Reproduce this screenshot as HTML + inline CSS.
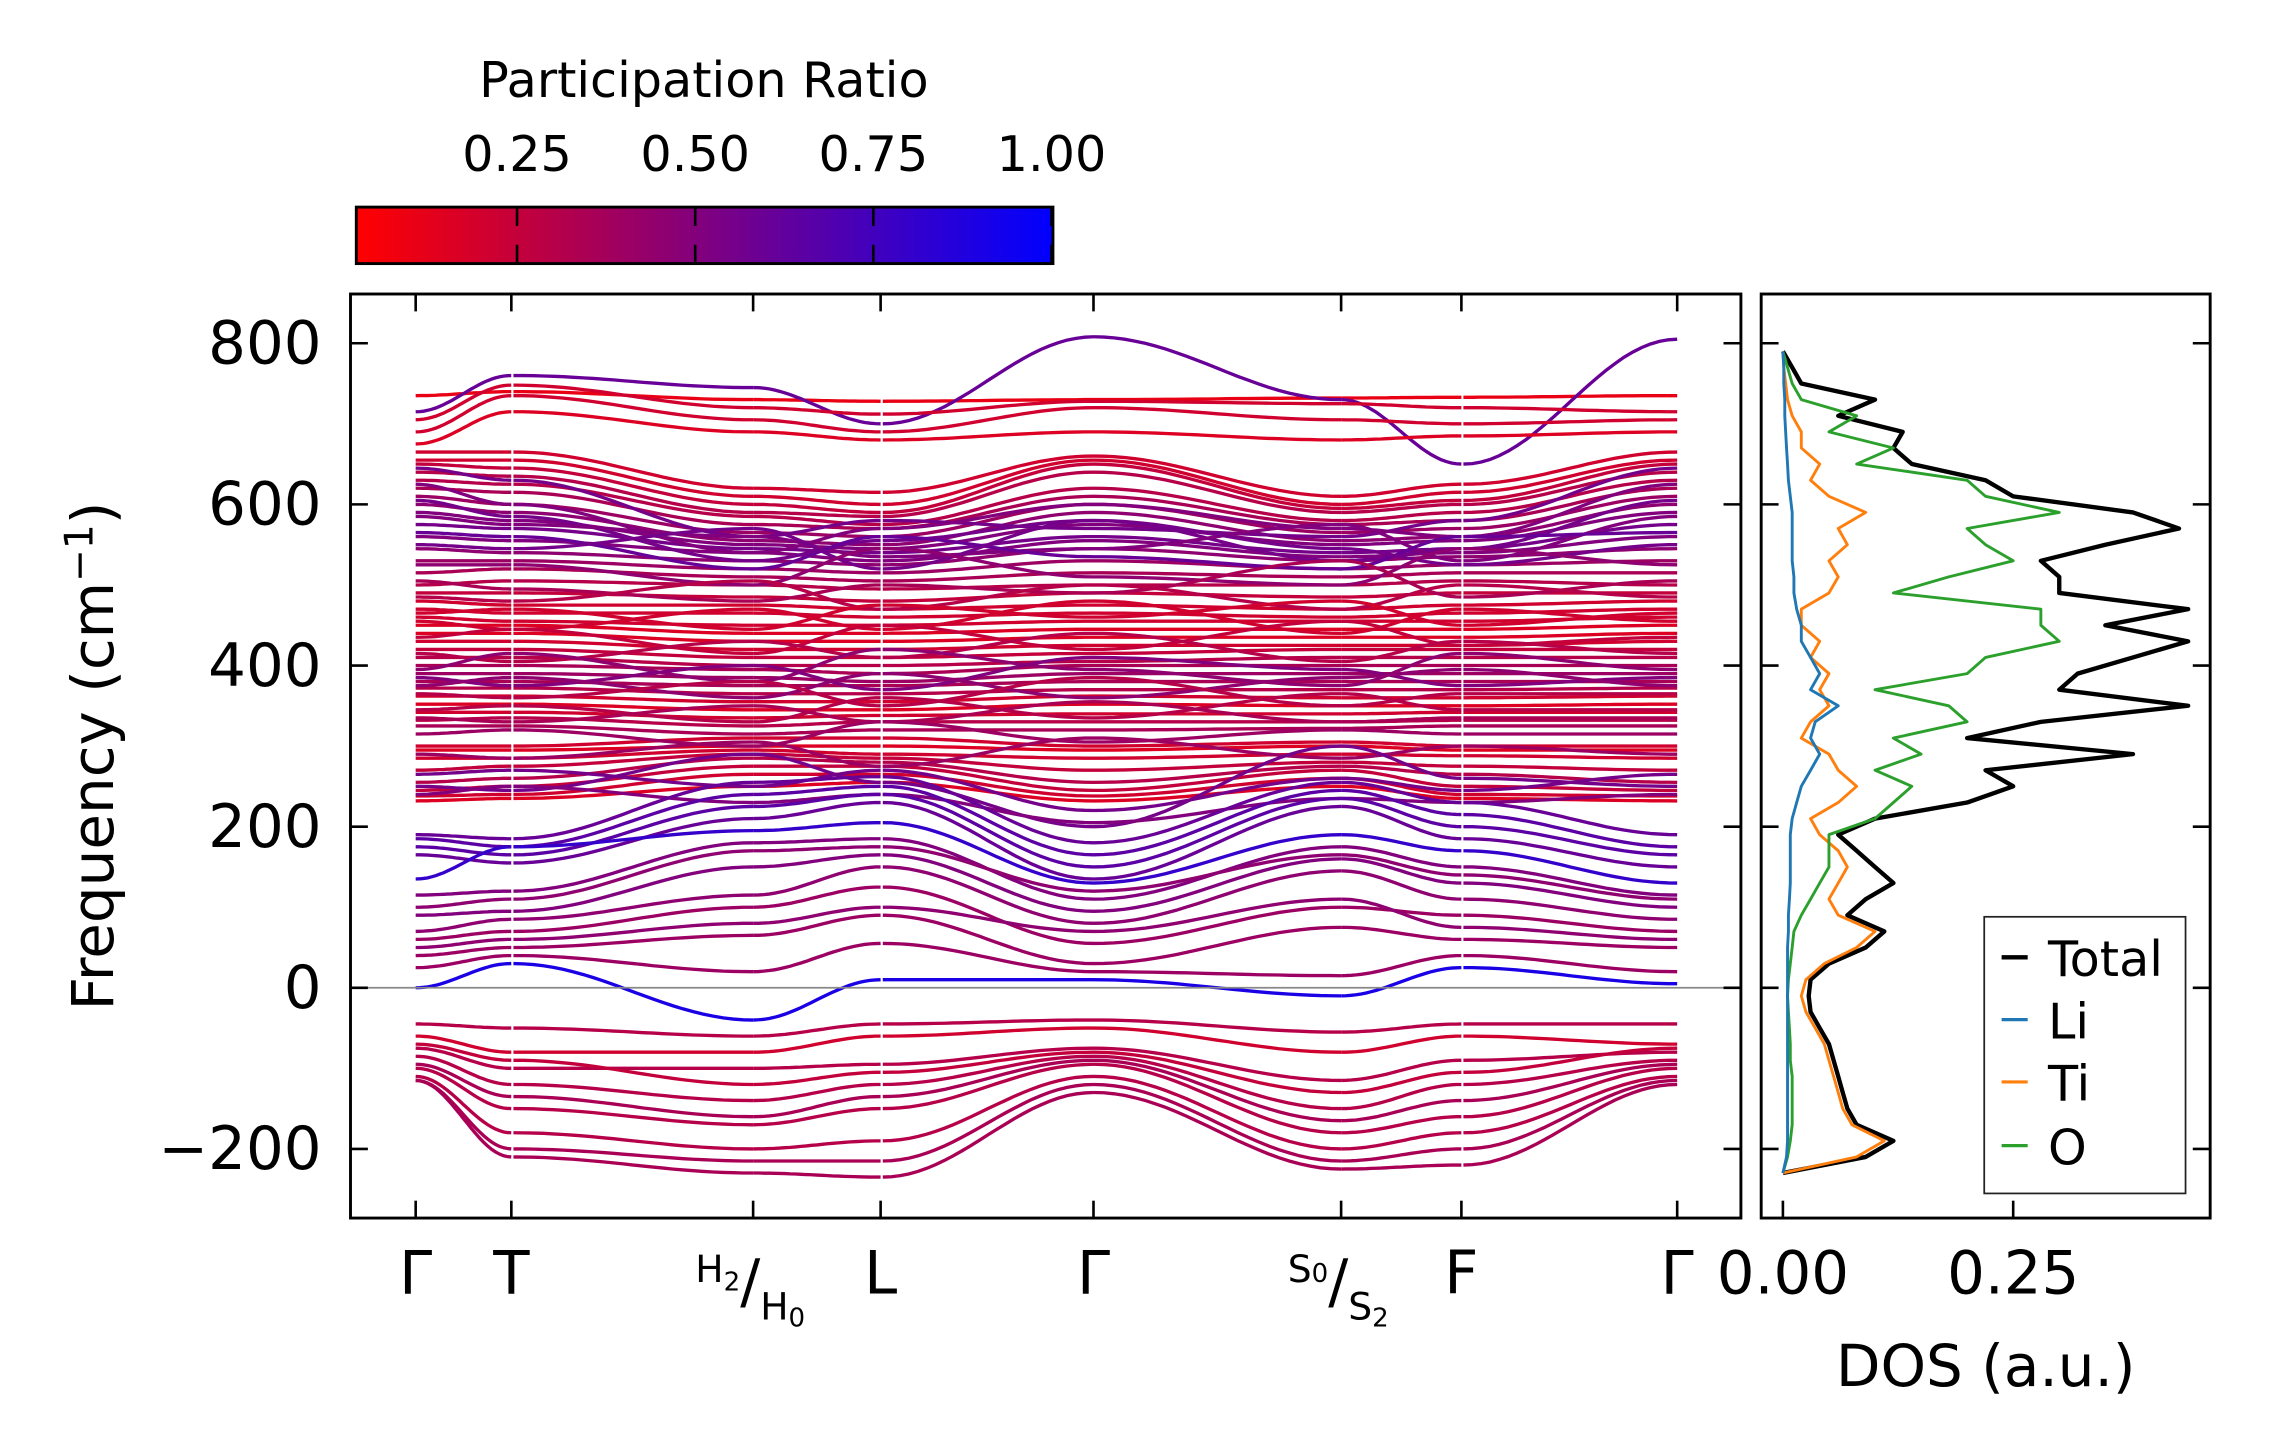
<!DOCTYPE html>
<html><head><meta charset="utf-8"><style>
html,body{margin:0;padding:0;background:#fff;}
svg{display:block;font-family:"DejaVu Sans","Liberation Sans",sans-serif;}
</style></head><body>
<svg id="fig" width="2271" height="1455" viewBox="0 0 1568 1004.6" xmlns="http://www.w3.org/2000/svg">
<defs>
<linearGradient id="cbg" x1="0" x2="1" y1="0" y2="0"><stop offset="0" stop-color="#ff0000"/><stop offset="1" stop-color="#0000ff"/></linearGradient>
<clipPath id="clipMain"><rect x="242" y="203" width="960" height="638"/></clipPath>
<clipPath id="clipDos"><rect x="1216" y="203" width="310" height="638"/></clipPath>
</defs>
<g>
<text x="486" y="67" font-size="34" text-anchor="middle">Participation Ratio</text>
<rect x="246" y="143" width="481" height="39" fill="url(#cbg)" stroke="#000" stroke-width="2"/>
<g id="cbticks"></g>
</g>
<g id="main"></g>
<g id="dos"></g>
<text x="1371" y="957" font-size="40" text-anchor="middle">DOS (a.u.)</text>
<text transform="translate(78,522) rotate(-90)" font-size="40" text-anchor="middle">Frequency (cm<tspan dy="-14" font-size="27">−1</tspan><tspan dy="14">)</tspan></text>
</svg>
<script>
const NS="http://www.w3.org/2000/svg";
const kLabels=["Γ","T","H","L","Γ","S","F","Γ"];
const kPos=[0,0.0688,0.2427,0.3344,0.4875,0.6656,0.7521,0.9073];
const yTicks=[-200,0,200,400,600,800];
const cbTicks=[0.25,0.50,0.75,1.00];
const dosTicks=[0.00,0.25];
const bandsTop=[
[735,740,730,728,730,732,733,735,.1],
[715,760,745,700,808,730,650,805,.6],
[705,748,720,712,728,725,720,715,.2],
[690,735,705,690,720,705,700,705,.2],
[675,715,690,680,690,680,685,690,.15],
[665,665,620,615,660,610,625,665,.2]];
const bandsMid=[
[655,655,610,600,655,600,615,655,.2],[650,645,600,590,650,595,605,650,.25],
[640,635,590,585,640,590,600,640,.3],[630,625,585,575,620,580,590,630,.3],
[620,615,575,570,610,575,580,620,.35],[610,600,565,560,600,565,570,610,.4],
[600,590,555,550,590,555,560,600,.45],[590,580,550,545,575,550,555,590,.5],
[575,570,545,540,560,540,545,575,.55],[560,555,540,530,555,535,540,560,.5],
[545,540,530,525,545,530,535,545,.45],[530,530,520,515,530,520,525,530,.4],
[515,520,510,505,515,510,515,515,.35],[500,505,500,495,500,500,505,500,.3],
[490,490,485,480,490,485,490,490,.25],[480,475,475,470,475,470,475,480,.2],
[470,465,465,460,465,460,465,470,.2],[460,455,450,450,455,455,455,460,.2],
[450,450,440,440,445,445,445,450,.15],[440,440,430,430,435,435,435,440,.15],
[430,430,420,420,425,425,425,430,.2],[420,420,410,410,415,420,420,420,.25],
[410,410,400,400,405,410,410,410,.3],[400,400,395,390,400,400,400,400,.35],
[390,390,385,380,390,390,390,390,.4],[380,380,375,375,380,380,380,380,.35],
[372,372,365,365,370,370,370,372,.3],[362,362,355,355,362,360,360,362,.2],
[352,352,345,345,352,350,350,352,.15],[342,342,335,338,340,340,342,342,.2],
[332,335,325,330,330,330,332,332,.3],[325,325,315,320,320,322,325,325,.35],
[300,300,310,310,300,305,300,300,.2],[295,295,300,300,295,300,295,295,.15],
[285,285,295,290,285,290,288,285,.2],[270,275,290,285,270,280,275,270,.25],
[255,260,285,280,255,275,265,255,.3],[245,250,275,275,245,270,250,245,.25],
[238,240,265,265,238,260,240,238,.2],[232,235,250,255,232,250,235,232,.15]];
const bandsMid2=[
[645,630,560,580,570,560,580,645,.55],[625,600,540,570,600,570,560,625,.5],
[605,585,530,555,580,530,545,605,.55],[585,575,560,535,545,575,530,585,.5],
[565,560,520,560,535,520,560,565,.6],[550,545,570,520,580,545,525,550,.55],
[525,525,500,545,510,500,545,525,.45],[505,495,480,500,490,530,485,505,.35],
[485,480,505,470,500,470,500,485,.3],[465,470,445,475,460,480,450,465,.2],
[455,445,470,445,480,440,470,455,.2],[435,445,415,450,420,455,425,435,.25],
[415,405,430,410,440,405,430,415,.3],[395,415,380,420,395,375,415,395,.45],
[385,375,400,370,410,395,375,385,.5],[375,385,360,390,360,385,395,375,.45],
[365,360,380,350,385,350,365,365,.3],[345,350,330,360,335,365,345,345,.3],
[335,330,350,330,355,330,335,335,.35],[315,320,300,330,305,320,315,315,.4],
[290,285,305,275,310,285,300,290,.4],[265,270,250,270,220,260,245,265,.55],
[250,245,290,255,200,300,260,250,.55],[240,250,230,240,205,235,230,240,.5]];
const bandsLow=[
[190,185,255,262,180,255,230,190,.6],[185,175,240,250,165,245,215,175,.65],
[175,165,225,240,150,235,200,165,.65],[165,155,210,230,135,225,185,150,.6],
[135,175,195,205,130,190,170,130,.8],[115,120,180,185,110,175,150,115,.5],
[90,95,150,165,95,160,130,100,.5],[70,85,115,150,80,145,110,85,.45],
[60,70,100,125,55,100,90,70,.4],[40,50,65,90,30,75,60,50,.4],
[25,40,20,55,20,15,40,20,.4],[0,30,-40,10,10,-10,25,5,.9],
[100,110,170,175,120,165,140,110,.45],[50,60,80,100,70,110,75,60,.45],
[-45,-50,-60,-45,-40,-55,-45,-45,.3],[-60,-80,-80,-60,-50,-80,-60,-70,.2],
[-75,-100,-100,-95,-75,-115,-90,-80,.3],[-85,-120,-140,-120,-85,-150,-120,-90,.3],
[-70,-90,-120,-105,-80,-130,-105,-75,.25],[-95,-135,-160,-135,-90,-165,-140,-95,.35],
[-100,-150,-170,-150,-95,-180,-160,-100,.3],[-110,-180,-200,-190,-110,-200,-180,-110,.3],
[-115,-200,-215,-215,-120,-215,-200,-115,.35],[-115,-210,-230,-235,-130,-225,-220,-120,.35]];
const dosFreq=[-230,-210,-190,-170,-150,-130,-110,-90,-70,-50,-30,-10,10,30,50,70,90,110,130,150,170,190,210,230,250,270,290,310,330,350,370,390,410,430,450,470,490,510,530,550,570,590,610,630,650,670,690,710,730,750,770,790];
const dosTotal=[0,.09,.12,.08,.07,.065,.06,.055,.05,.04,.03,.028,.03,.05,.09,.11,.07,.09,.12,.1,.08,.06,.1,.2,.25,.22,.38,.2,.28,.44,.3,.32,.38,.44,.35,.44,.3,.3,.28,.35,.43,.38,.25,.22,.14,.12,.13,.06,.1,.02,.01,0];
const dosTi=[0,.08,.11,.075,.065,.06,.055,.05,.045,.035,.025,.02,.025,.045,.08,.1,.06,.05,.06,.07,.06,.04,.03,.06,.08,.06,.05,.02,.03,.05,.04,.05,.03,.04,.02,.02,.05,.06,.05,.07,.06,.09,.05,.03,.04,.02,.02,.01,.005,.003,.001,0];
const dosO=[0,.005,.008,.01,.01,.01,.01,.008,.008,.007,.006,.005,.006,.008,.01,.012,.02,.03,.04,.05,.05,.05,.1,.12,.14,.1,.15,.12,.2,.18,.1,.2,.22,.3,.28,.28,.12,.18,.25,.22,.2,.3,.22,.2,.08,.12,.05,.08,.02,.01,.005,0];
const dosLi=[0,.004,.005,.005,.005,.005,.005,.005,.005,.005,.005,.005,.005,.005,.005,.006,.006,.007,.008,.008,.008,.008,.01,.015,.02,.03,.04,.03,.035,.06,.03,.04,.03,.02,.02,.015,.012,.012,.01,.01,.01,.01,.008,.006,.005,.004,.003,.002,.002,.001,.001,0];

const MX0=242,MX1=1202,MY0=203,MY1=841;
const pathX0=287,pathX1=1158;
const fy=v=>682-(v)*(445/800);
const kx=f=>pathX0+f*(pathX1-pathX0)/kPos[7];
const dx=v=>1231+v*(159/0.25);
const cbx=v=>357+(v-0.25)*(123/0.25);
function el(tag,attrs,parent){const e=document.createElementNS(NS,tag);for(const k in attrs)e.setAttribute(k,attrs[k]);parent.appendChild(e);return e;}
function color(p){const t=Math.max(0,Math.min(1,(p-0.02)/0.98));return `rgb(${Math.round(255*(1-t))},0,${Math.round(255*t)})`;}

const cbt=document.getElementById('cbticks');
cbTicks.forEach(v=>{
 const l=el('line',{x1:cbx(v),x2:cbx(v),y1:143,y2:156,stroke:'#000','stroke-width':1.8},cbt);
 
 const l2=el('line',{x1:cbx(v),x2:cbx(v),y1:169,y2:182,stroke:'#000','stroke-width':1.8},cbt);
 
 const t=el('text',{x:cbx(v),y:118,'font-size':34,'text-anchor':'middle'},cbt);t.textContent=v.toFixed(2);
 
});

const main=document.getElementById('main');
const bandG=el('g',{'clip-path':'url(#clipMain)'},main);

[...bandsTop,...bandsMid,...bandsMid2,...bandsLow].forEach(b=>{
 for(let s=0;s<7;s++){
  let d='';const N=24;
  const f0=kPos[s]+((s===1||s===3||s===6)?0.0015:0);
  const f1=kPos[s+1];
  for(let i=0;i<=N;i++){const t=i/N;const w=(1-Math.cos(Math.PI*t))/2;
   const v=b[s]+(b[s+1]-b[s])*w;const f=f0+(f1-f0)*t;
   d+=(i?'L':'M')+kx(f).toFixed(1)+' '+fy(v).toFixed(1);}
  const p=el('path',{d:d,fill:'none',stroke:color(b[8]),'stroke-width':2.3},bandG);
  
 }
});
const zl=el('line',{x1:MX0,x2:MX1,y1:fy(0),y2:fy(0),stroke:'#888','stroke-width':1.2},main);

const fr=el('rect',{x:MX0,y:MY0,width:MX1-MX0,height:MY1-MY0,fill:'none',stroke:'#000','stroke-width':2},main);

yTicks.forEach(v=>{
 const y=fy(v);
 const a=el('line',{x1:MX0,x2:MX0+12,y1:y,y2:y,stroke:'#000','stroke-width':1.8},main);
 const b=el('line',{x1:MX1-12,x2:MX1,y1:y,y2:y,stroke:'#000','stroke-width':1.8},main);
 const t=el('text',{x:MX0-20,y:y+14,'font-size':41,'text-anchor':'end'},main);t.textContent=v<0?'−'+(-v):String(v);
 
});
kPos.forEach((f,i)=>{
 const x=kx(f);
 const a=el('line',{x1:x,x2:x,y1:MY1-12,y2:MY1,stroke:'#000','stroke-width':1.8},main);
 const b=el('line',{x1:x,x2:x,y1:MY0,y2:MY0+12,stroke:'#000','stroke-width':1.8},main);
 const t=el('text',{x:x,y:893,'font-size':41,'text-anchor':'middle'},main);
 
 if(kLabels[i]==='H'){t.innerHTML='<tspan font-size="26" dy="-8">H</tspan><tspan font-size="18" dy="6">2</tspan><tspan dy="8">/</tspan><tspan font-size="26" dy="12">H</tspan><tspan font-size="18" dy="5">0</tspan>';t.setAttribute('x',x-2);}
 else if(kLabels[i]==='S'){t.innerHTML='<tspan font-size="26" dy="-8">S</tspan><tspan font-size="18" dy="0">0</tspan><tspan dy="14">/</tspan><tspan font-size="26" dy="12">S</tspan><tspan font-size="18" dy="5">2</tspan>';t.setAttribute('x',x-2);}
 else t.textContent=kLabels[i];
});

const dos=document.getElementById('dos');
const DX0=1216,DX1=1526;
const dg=el('g',{'clip-path':'url(#clipDos)'},dos);
function dosLine(arr,col,w,name){let d='';arr.forEach((v,i)=>{d+=(i?'L':'M')+dx(v).toFixed(1)+' '+fy(dosFreq[i]).toFixed(1);});
 const p=el('path',{d:d,fill:'none',stroke:col,'stroke-width':w,'stroke-linejoin':'round'},dg);
 }
dosLine(dosTotal,'#000',3,'dos-total-line');
dosLine(dosTi,'#ff7f0e',2,'dos-ti-line');
dosLine(dosO,'#2ca02c',2,'dos-o-line');
dosLine(dosLi,'#1f77b4',2,'dos-li-line');
const dfr=el('rect',{x:DX0,y:MY0,width:DX1-DX0,height:MY1-MY0,fill:'none',stroke:'#000','stroke-width':2},dos);

yTicks.forEach(v=>{const y=fy(v);
 const a=el('line',{x1:DX0,x2:DX0+12,y1:y,y2:y,stroke:'#000','stroke-width':1.8},dos);
 const b=el('line',{x1:DX1-12,x2:DX1,y1:y,y2:y,stroke:'#000','stroke-width':1.8},dos);});
dosTicks.forEach(v=>{const x=dx(v);
 const a=el('line',{x1:x,x2:x,y1:MY1-12,y2:MY1,stroke:'#000','stroke-width':1.8},dos);
 const t=el('text',{x:x,y:893,'font-size':41,'text-anchor':'middle'},dos);t.textContent=v.toFixed(2);
 });
const lg=el('g',{},dos);
const lr=el('rect',{x:1370,y:633,width:139,height:191,fill:'#fff',stroke:'#222','stroke-width':1.2},lg);

[["Total","#000",662],["Li","#1f77b4",705],["Ti","#ff7f0e",748],["O","#2ca02c",792]].forEach(e=>{
 const g=el('g',{},lg);
 el('line',{x1:1382,x2:1400,y1:e[2]-1,y2:e[2]-1,stroke:e[1],'stroke-width':e[0]==='Total'?3:2.2},g);
 const t=el('text',{x:1414,y:e[2]+12,'font-size':34},g);t.textContent=e[0];
});
</script>
</body></html>
